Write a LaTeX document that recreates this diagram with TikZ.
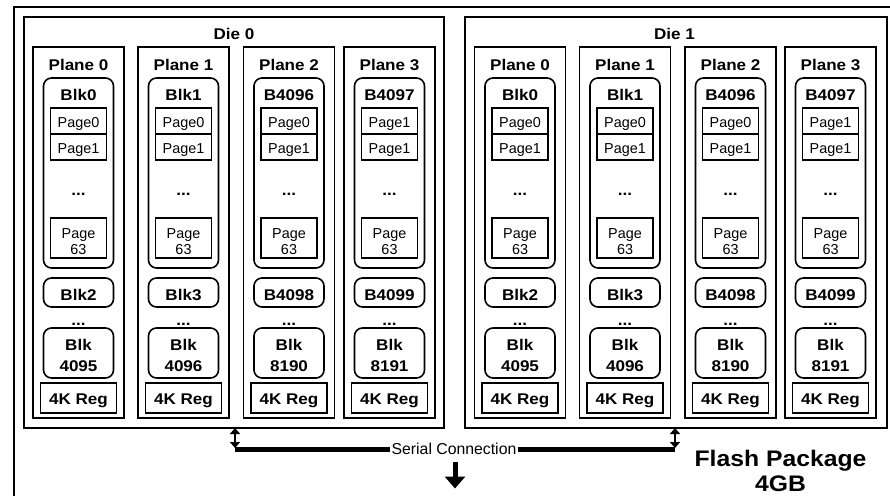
\documentclass[tikz,border=0pt]{standalone}
\usepackage{fontspec}
\setmainfont{Liberation Sans}
\newfontfamily\wideb{Liberation Sans Bold}[FakeStretch=1.1]
\usetikzlibrary{arrows.meta}
\tikzset{
  box/.style={draw, line width=1.6pt, inner sep=0pt, outer sep=0pt},
  rbox/.style={box, rounded corners=8pt},
  lbl/.style={anchor=base, inner sep=0pt, font=\wideb\fontsize{15.5}{18}\selectfont},
  pg/.style={anchor=base, inner sep=0pt, font=\fontsize{14.4}{16}\selectfont},
  bigl/.style={anchor=base, inner sep=0pt, font=\wideb\fontsize{22.5}{26}\selectfont},
  serl/.style={anchor=base, inner sep=1pt, font=\fontsize{15.8}{18}\selectfont},
  thickline/.style={line width=5pt},
  dbl/.style={line width=2.5pt, {Triangle[width=10pt,length=6pt]}-{Triangle[width=10pt,length=6pt]}},
  downarr/.style={line width=5pt, -{Triangle[width=20pt,length=12pt]}},
}
\newcommand\myplane[8]{%
  \node[box, minimum width=91pt, minimum height=371pt] (#1p) at (#2,232.5) {};
  \node[lbl] (#1pl) at (#2,70.5) {#3};
  \node[rbox, minimum width=70pt, minimum height=190pt] (#1b) at (#2,173) {};
  \node[lbl] (#1bl) at (#2,100.5) {#4};
  \node[box, minimum width=56pt, minimum height=26pt] (#1pa) at (#2,121) {};
  \node[pg] (#1pat) at (#2,127.7) {#5};
  \node[box, minimum width=56pt, minimum height=26pt] (#1pb) at (#2,147) {};
  \node[pg] (#1pbt) at (#2,153.3) {#6};
  \node[lbl] (#1da) at (#2,195.7) {...};
  \node[box, minimum width=56pt, minimum height=40pt] (#1pc) at (#2,238) {};
  \node[pg] (#1pct) at (#2,238.3) {Page};
  \node[pg] (#1pcn) at (#2,254) {63};
  \node[rbox, minimum width=70pt, minimum height=29pt] (#1b2) at (#2,292.5) {};
  \node[lbl] (#1b2t) at (#2,300) {#7};
  \node[lbl] (#1db) at (#2,325.7) {...};
  \node[rbox, minimum width=70pt, minimum height=50pt] (#1b3) at (#2,353) {};
  \node[lbl] (#1b3t) at (#2,350.7) {Blk};
  \node[lbl] (#1b3n) at (#2,371.7) {#8};
  \node[box, minimum width=76pt, minimum height=30pt] (#1r) at (#2,398) {};
  \node[lbl] (#1rt) at (#2,404.3) {4K Reg};
}
\begin{document}
\begin{tikzpicture}[x=1pt,y=-1pt]
\useasboundingbox (0,0) rectangle (890,495);
\clip (0,0) rectangle (890,495);
% outer package
\node[box, minimum width=886pt, minimum height=498pt, anchor=north west] (pkg) at (14,7) {};
% dies
\node[box, minimum width=420pt, minimum height=411pt] (die0) at (234,222.5) {};
\node[lbl] (die0l) at (234,40) {Die 0};
\node[box, minimum width=422pt, minimum height=411pt] (die1) at (676,222.5) {};
\node[lbl] (die1l) at (674.5,40) {Die 1};
% die 0 planes
\myplane{a0}{78.5}{Plane 0}{Blk0}{Page0}{Page1}{Blk2}{4095}
\myplane{a1}{183.5}{Plane 1}{Blk1}{Page0}{Page1}{Blk3}{4096}
\myplane{a2}{289}{Plane 2}{B4096}{Page0}{Page1}{B4098}{8190}
\myplane{a3}{389.5}{Plane 3}{B4097}{Page1}{Page1}{B4099}{8191}
% die 1 planes
\myplane{b0}{520}{Plane 0}{Blk0}{Page0}{Page1}{Blk2}{4095}
\myplane{b1}{625}{Plane 1}{Blk1}{Page0}{Page1}{Blk3}{4096}
\myplane{b2}{730.5}{Plane 2}{B4096}{Page0}{Page1}{B4098}{8190}
\myplane{b3}{830.5}{Plane 3}{B4097}{Page1}{Page1}{B4099}{8191}
% serial connection
\coordinate (sa) at (235,449);
\coordinate (sb) at (675,449);
\node[serl] (ser) at (454,454.3) {Serial Connection};
\draw[thickline] (sa) -- (sa -| ser.west);
\draw[thickline] (sb -| ser.east) -- (sb);
\draw[dbl] (sa |- die0.south) -- ([yshift=1pt]sa);
\draw[dbl] (sb |- die1.south) -- ([yshift=1pt]sb);
% down arrow
\coordinate (dtop) at (455,462);
\coordinate (dbot) at (455,488.5);
\draw[downarr] (dtop) -- (dbot);
% label
\node[bigl] (fp) at (780.5,466) {Flash Package};
\node[bigl] (fg) at (780.5,491.5) {4GB};
\end{tikzpicture}
\end{document}
